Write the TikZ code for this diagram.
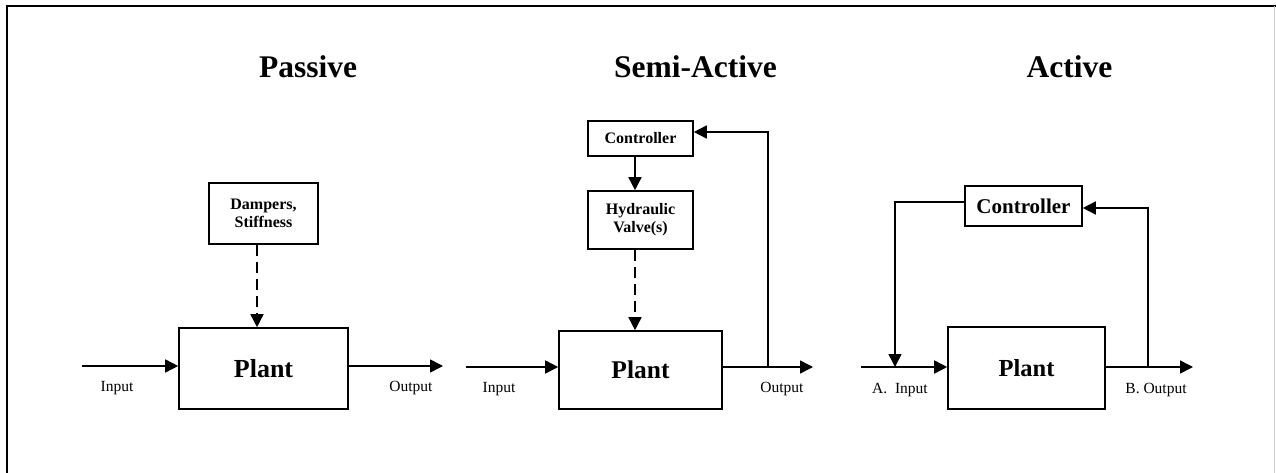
\documentclass[tikz,border=0pt]{standalone}
\usepackage{fontspec}
\setmainfont{Liberation Serif}
\usetikzlibrary{arrows.meta}
\tikzset{
  box/.style={draw, line width=1.6pt, inner sep=0pt, font=\bfseries\fontsize{16}{18}\selectfont, align=center},
  ttl/.style={font=\bfseries\fontsize{31.5}{36}\selectfont, inner sep=0pt},
  lbl/.style={font=\fontsize{15.5}{18}\selectfont, inner sep=0pt},
  arr/.style={line width=1.6pt, -{Triangle[length=13pt,width=13pt]}},
  darr/.style={arr, dash pattern=on 11pt off 6pt},
  ln/.style={line width=1.6pt}
}
\begin{document}
\begin{tikzpicture}[x=1pt,y=-1pt]
\useasboundingbox (0,0) rectangle (1276,473);
\fill[white] (0,0) rectangle (1276,473);
% frame
\draw[line width=1.8pt] (7,473) -- (7,6) -- (1276,6);
\draw[line width=1pt, black!20] (1274.5,6) -- (1274.5,473);

% ---------- Passive ----------
\node[ttl] (t1) at (308,67) {Passive};
\node[box, minimum width=109pt, minimum height=61pt] (damp) at (263.5,213.5) {Dampers,\\Stiffness};
\node[box, minimum width=169pt, minimum height=81pt, font=\bfseries\fontsize{26}{30}\selectfont] (plant1) at (263.5,368.5) {Plant};
\draw[darr] ([xshift=-6.5pt]damp.south) -- ([xshift=-6.5pt]plant1.north);
\coordinate (in1) at (82,366);
\coordinate (out1) at (443,366);
\draw[arr] (in1) -- (in1 -| plant1.west);
\draw[arr] (out1 -| plant1.east) -- (out1);
\node[lbl] (lin1) at (117,388) {Input};
\node[lbl] (lout1) at (411,388) {Output};

% ---------- Semi-Active ----------
\node[ttl] (t2) at (695.5,67) {Semi-Active};
\node[box, minimum width=105pt, minimum height=35pt] (ctrl2) at (640.5,138.5) {Controller};
\node[box, minimum width=105pt, minimum height=58pt] (hyd) at (640.5,220) {Hydraulic\\Valve(s)};
\node[box, minimum width=163pt, minimum height=78pt, font=\bfseries\fontsize{25.5}{30}\selectfont] (plant2) at (640.5,370) {Plant};
\draw[arr] ([xshift=-5.5pt]ctrl2.south) -- ([xshift=-5.5pt]hyd.north);
\draw[darr] ([xshift=-5.5pt]hyd.south) -- ([xshift=-5.5pt]plant2.north);
\coordinate (in2) at (466,367);
\coordinate (out2) at (813,367);
\coordinate (br2) at (768,367);
\coordinate (fb2) at (768,132);
\draw[arr] (in2) -- (in2 -| plant2.west);
\draw[arr] (out2 -| plant2.east) -- (out2);
\draw[arr] (br2) -- (fb2) -- (fb2 -| ctrl2.east);
\node[lbl] (lin2) at (499,389) {Input};
\node[lbl] (lout2) at (782,389) {Output};

% ---------- Active ----------
\node[ttl] (t3) at (1069.5,67) {Active};
\node[box, minimum width=117pt, minimum height=40pt, font=\bfseries\fontsize{21}{24}\selectfont] (ctrl3) at (1023.5,206) {Controller};
\node[box, minimum width=157pt, minimum height=82pt, font=\bfseries\fontsize{24.5}{28}\selectfont] (plant3) at (1026.5,368) {Plant};
\coordinate (in3) at (861,367);
\coordinate (out3) at (1193,367);
\coordinate (fl3) at (895,202);
\coordinate (sum3) at (895,367);
\coordinate (br3) at (1148,367);
\coordinate (fb3) at (1148,208);
\draw[arr] (in3) -- (in3 -| plant3.west);
\draw[arr] (out3 -| plant3.east) -- (out3);
\draw[arr] (fl3 -| ctrl3.west) -- (fl3) -- (sum3);
\draw[arr] (br3) -- (fb3) -- (fb3 -| ctrl3.east);
\node[lbl] (lin3) at (900,390) {A.\ \ Input};
\node[lbl] (lout3) at (1156,390) {B. Output};
\end{tikzpicture}
\end{document}
